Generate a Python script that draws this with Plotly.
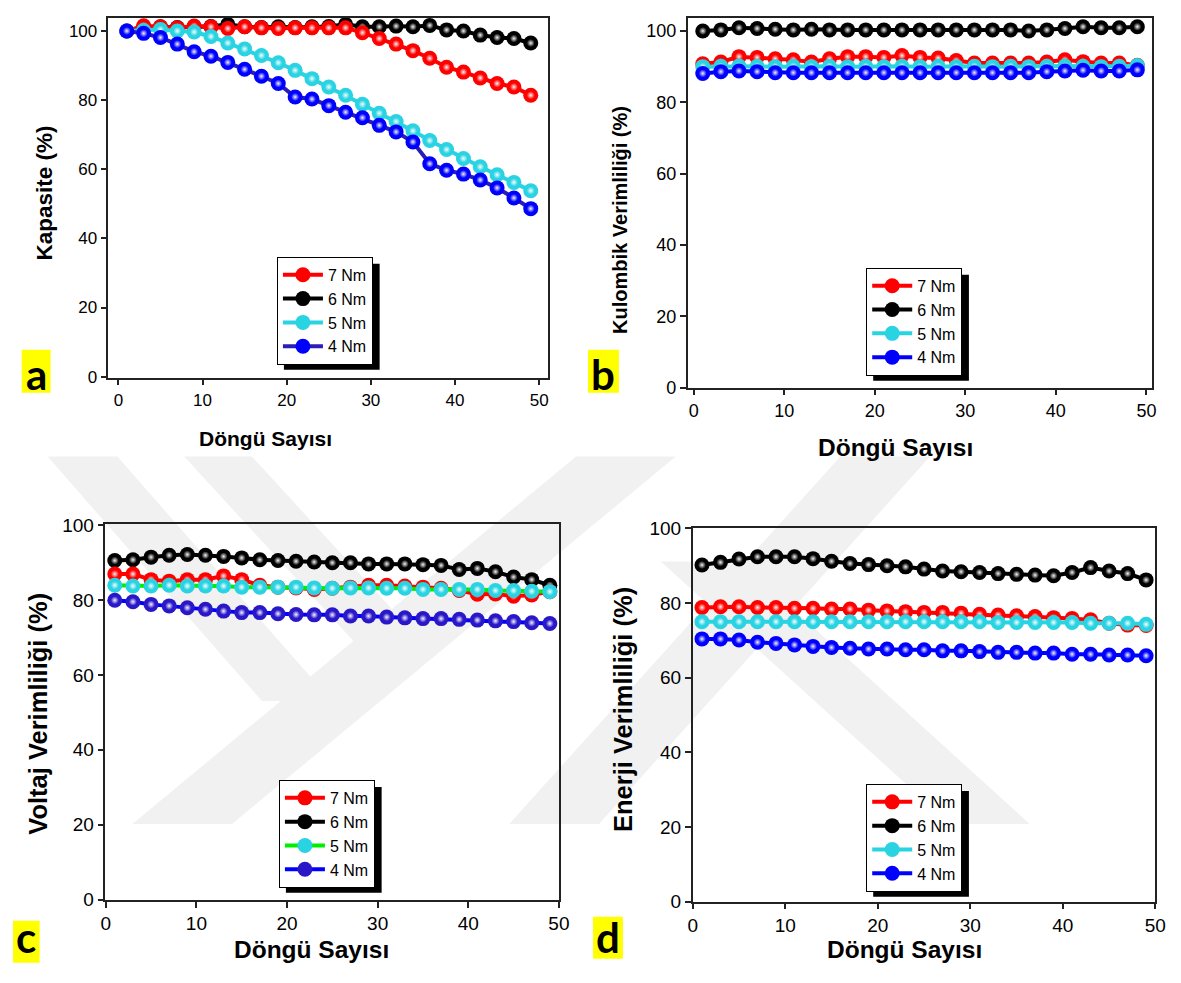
import plotly.graph_objects as go

W, H = 1181, 983
FW, FH = 1165, 967
# observed placement of the figure in the photographed page
X0, SX = 10.3, 0.99
Y0, SY = 15.7, 0.98
TOP_MIN = Y0 + 0.5
BOT_MAX = Y0 + SY * FH - 0.5

cycles = [1, 3, 5, 7, 9, 11, 13, 15, 17, 19, 21, 23, 25, 27, 29, 31, 33, 35, 37, 39, 41, 43, 45, 47, 49]
series_names = ["7 Nm", "6 Nm", "5 Nm", "4 Nm"]

# Panel a: Kapasite (%)
a_7 = [100, 101.5, 101.2, 100.9, 101.4, 101.2, 100.7, 101.2, 100.9, 100.7, 100.9, 100.9, 100.9, 100.9, 99.5, 97.8, 96.2, 94.3, 92.1, 89.5, 88.1, 86.4, 84.8, 83.8, 81.4]
a_6 = [100, 101.0, 101.2, 101.0, 101.2, 101.3, 101.9, 101.2, 101.0, 101.2, 101.0, 101.2, 101.3, 101.9, 101.2, 101.2, 101.4, 101.2, 101.6, 100.3, 100.0, 98.8, 98.1, 97.8, 96.5]
a_5 = [100, 100.2, 100.4, 100.0, 99.7, 98.4, 96.5, 94.8, 92.9, 90.8, 88.6, 86.2, 83.8, 81.4, 78.8, 76.2, 73.8, 71.1, 68.3, 65.7, 63.1, 60.7, 58.4, 56.2, 53.8]
a_4 = [100, 99.3, 98.1, 96.2, 94.0, 92.7, 90.9, 88.9, 86.9, 84.8, 80.9, 80.3, 78.4, 76.5, 74.9, 72.7, 70.8, 67.9, 61.6, 59.7, 58.6, 56.9, 54.6, 51.7, 48.6]

# Panel b: Kulombik Verimliliği (%)
b_7 = [90.8, 91.3, 92.8, 92.6, 92.2, 91.9, 91.3, 92.2, 92.8, 92.8, 92.6, 93.1, 92.6, 92.4, 91.7, 91.0, 91.0, 91.0, 91.0, 91.3, 91.9, 91.4, 91.0, 91.0, 90.4]
b_6 = [100.0, 100.3, 100.9, 100.7, 100.5, 100.3, 100.5, 100.3, 100.3, 100.3, 100.3, 100.3, 100.3, 100.3, 100.3, 100.3, 100.3, 100.3, 100.0, 100.3, 100.7, 101.2, 100.9, 100.9, 101.2]
b_5 = [90.0, 90.1, 90.2, 90.1, 90.0, 90.1, 90.0, 90.1, 90.0, 90.1, 90.0, 90.1, 90.0, 90.1, 90.0, 90.1, 90.0, 90.1, 90.0, 90.1, 90.2, 90.1, 90.0, 90.1, 90.3]
b_4 = [88.1, 88.6, 88.8, 88.6, 88.3, 88.3, 88.3, 88.3, 88.3, 88.3, 88.3, 88.3, 88.3, 88.3, 88.3, 88.3, 88.3, 88.3, 88.3, 88.6, 88.8, 89.0, 88.8, 88.8, 89.1]

# Panel c: Voltaj Verimliliği (%)
c_7 = [86.9, 86.9, 85.4, 85.0, 85.4, 85.4, 86.4, 85.4, 83.9, 83.4, 83.2, 82.8, 83.1, 83.4, 83.9, 83.9, 83.7, 83.4, 83.1, 82.5, 81.5, 81.6, 81.0, 81.3, 82.2]
c_6 = [90.5, 90.7, 91.4, 91.9, 92.1, 91.9, 91.6, 91.2, 90.7, 90.5, 90.3, 90.1, 89.9, 89.9, 89.6, 89.6, 89.6, 89.4, 89.2, 88.1, 88.4, 87.5, 86.1, 85.4, 83.9]
c_5 = [83.9, 83.7, 83.7, 83.9, 83.7, 83.7, 83.7, 83.4, 83.4, 83.4, 83.4, 83.2, 83.1, 83.2, 83.2, 83.1, 83.1, 82.8, 82.8, 82.8, 82.8, 82.5, 82.5, 82.3, 82.2]
c_4 = [79.9, 79.5, 78.8, 78.4, 77.9, 77.5, 77.0, 76.6, 76.6, 76.3, 76.1, 76.0, 76.0, 75.7, 75.7, 75.4, 75.2, 75.0, 75.0, 74.8, 74.6, 74.4, 74.2, 73.9, 73.7]

# Panel d: Enerji Verimliliği (%)
d_7 = [78.8, 79.0, 79.0, 78.8, 78.8, 78.6, 78.6, 78.4, 78.4, 78.1, 77.9, 77.7, 77.5, 77.5, 77.3, 77.0, 76.8, 76.6, 76.4, 76.1, 75.9, 75.5, 74.6, 74.1, 74.0]
d_6 = [90.2, 90.9, 91.8, 92.4, 92.4, 92.4, 91.9, 91.2, 90.6, 90.3, 90.0, 89.7, 89.1, 88.6, 88.4, 88.2, 87.9, 87.7, 87.5, 87.3, 88.2, 89.5, 88.6, 87.9, 86.2]
d_5 = [75.0, 75.0, 75.0, 75.0, 75.0, 75.0, 75.0, 75.0, 75.0, 75.0, 75.0, 75.0, 75.0, 75.0, 75.0, 75.0, 74.8, 74.8, 74.8, 74.8, 74.8, 74.6, 74.6, 74.6, 74.3]
d_4 = [70.4, 70.4, 70.1, 69.5, 69.2, 68.8, 68.4, 68.1, 67.9, 67.7, 67.7, 67.5, 67.5, 67.2, 67.2, 67.0, 66.8, 66.8, 66.6, 66.6, 66.3, 66.3, 66.1, 66.1, 65.9]

y_titles = ["Kapasite (%)", "Kulombik Verimliliği (%)", "Voltaj Verimliliği (%)", "Enerji Verimliliği (%)"]
x_title = "Döngü Sayısı"
panel_letters = ["a", "b", "c", "d"]
x_ticks = [0, 10, 20, 30, 40, 50]
y_ticks = [0, 20, 40, 60, 80, 100]

RED, BLACK, CYAN, BLUE = "#ff0000", "#000000", "#2ad3e2", "#0000ff"
FONT = "Arial, Liberation Sans, sans-serif"


def clampy(y):
    return min(BOT_MAX, max(TOP_MIN, y))


def px(x):
    return min(1, max(0, (x - X0) / SX / FW))


def py(y):
    return min(1, max(0, 1 - (y - Y0) / SY / FH))


# target pixel geometry: frame box, pixel of value 0, pixels per unit, y-range top
panels = [
    dict(data=[a_7, a_6, a_5, a_4], box=(106, 10, 547, 376), x0=116, xu=8.44, y0=375, yu=3.5, ytop=103.6,
         lines=[RED, BLACK, CYAN, "#2b1db5"], marks=[RED, BLACK, CYAN, BLUE],
         legend=(275, 255), tick=17, ytf=22.5, xtf=21,
         ytitle=(42, 191), xtitle=(264, 437), lab=(19, 348, 48, 391)),
    dict(data=[b_7, b_6, b_5, b_4], box=(687, 3, 1153, 386), x0=693, xu=9.08, y0=386, yu=3.7, ytop=103.5,
         lines=[RED, BLACK, CYAN, BLUE], marks=[RED, BLACK, CYAN, BLUE],
         legend=(866, 266), tick=18, ytf=20, xtf=24.5,
         ytitle=(619, 218), xtitle=(895, 446), lab=(587, 348, 618, 391)),
    dict(data=[c_7, c_6, c_5, c_4], box=(103, 523, 558, 899), x0=103.3, xu=9.09, y0=899, yu=3.755, ytop=None,
         lines=[RED, BLACK, "#00ee00", BLUE], marks=[RED, BLACK, CYAN, "#2a18c8"],
         legend=(277, 779), tick=19, ytf=25.5, xtf=24.5,
         ytitle=(35, 713), xtitle=(310, 962), lab=(9, 920, 37, 962)),
    dict(data=[d_7, d_6, d_5, d_4], box=(692, 527, 1156, 901), x0=692, xu=9.28, y0=901, yu=3.74, ytop=None,
         lines=[RED, BLACK, CYAN, BLUE], marks=[RED, BLACK, CYAN, BLUE],
         legend=(866, 783), tick=19, ytf=25.5, xtf=24.5,
         ytitle=(622, 708), xtitle=(904, 961), lab=(592, 916, 622, 958)),
]
LEG_W, LEG_H = 96, 106

fig = go.Figure()
shapes = []
annotations = []

# faint watermark bands (background)
wm = [
    [(45, 455), (115, 455), (330, 700), (260, 700)],
    [(182, 455), (250, 455), (420, 640), (352, 640)],
    [(575, 455), (675, 455), (230, 823), (130, 823)],
    [(840, 455), (930, 455), (598, 823), (508, 823)],
    [(660, 560), (740, 560), (1030, 823), (950, 823)],
]
for poly in wm:
    path = "M " + " L ".join(f"{px(x):.4f},{py(y):.4f}" for x, y in poly) + " Z"
    shapes.append(dict(type="path", xref="paper", yref="paper", path=path,
                       fillcolor="#f1f1f1", line=dict(width=0), layer="below"))

draw_order = [1, 0, 2, 3]
for i, p in enumerate(panels):
    k = "" if i == 0 else str(i + 1)
    xa, ya = "x" + k, "y" + k
    leg = "legend" + k
    for j in draw_order:
        fig.add_trace(go.Scatter(
            x=cycles, y=p["data"][j], name=series_names[j], mode="lines+markers",
            xaxis=xa, yaxis=ya, legend=leg, legendrank=j + 1, cliponaxis=False,
            line=dict(color=p["lines"][j], width=4),
            marker=dict(size=15, color=p["marks"][j], line=dict(width=0)),
        ))
        # specular highlight on the spheres
        fig.add_trace(go.Scatter(
            x=cycles, y=p["data"][j], mode="markers", xaxis=xa, yaxis=ya,
            showlegend=False, hoverinfo="skip", cliponaxis=False,
            marker=dict(size=8, color="rgba(255,255,255,0)", line=dict(width=0),
                        gradient=dict(type="radial", color="rgba(255,255,255,0.95)")),
        ))
    bx0, by0, bx1, by1 = p["box"]
    xr = [(bx0 - p["x0"]) / p["xu"], (bx1 - p["x0"]) / p["xu"]]
    yr = [(p["y0"] - by1) / p["yu"], p["ytop"] if p["ytop"] else (p["y0"] - by0) / p["yu"]]
    by0, by1 = clampy(by0), clampy(by1)
    axis_common = dict(showline=True, mirror=True, linecolor="#222222", linewidth=1.5,
                       ticks="outside", ticklen=6, tickwidth=1.5, tickcolor="#222222",
                       showgrid=False, zeroline=False,
                       tickfont=dict(family=FONT, size=p["tick"], color="black"))
    fig.update_layout({
        "xaxis" + k: dict(domain=[px(bx0), px(bx1)], range=xr, anchor=ya,
                          tickvals=x_ticks, **axis_common),
        "yaxis" + k: dict(domain=[py(by1), py(by0)], range=yr, anchor=xa,
                          tickvals=y_ticks, **axis_common),
        leg: dict(x=px(p["legend"][0]), y=py(p["legend"][1]), xanchor="left", yanchor="top",
                  bgcolor="white", bordercolor="black", borderwidth=1,
                  font=dict(family=FONT, size=16, color="black"),
                  itemwidth=40, tracegroupgap=0, traceorder="normal"),
    })
    lx0, ly0 = p["legend"]
    shapes.append(dict(type="rect", xref="paper", yref="paper",
                       x0=px(lx0 + 7), x1=px(lx0 + LEG_W + 7), y0=py(ly0 + LEG_H + 7), y1=py(ly0 + 7),
                       fillcolor="black", line=dict(width=0), layer="above"))
    # axis titles
    annotations.append(dict(x=px(p["ytitle"][0]), y=py(p["ytitle"][1]), xref="paper", yref="paper",
                            xanchor="center", yanchor="middle",
                            text="<b>" + y_titles[i] + "</b>", textangle=-90, showarrow=False,
                            font=dict(family=FONT, size=p["ytf"], color="black")))
    tx, ty = p["xtitle"]
    if ty + 16 > BOT_MAX:
        annotations.append(dict(x=px(tx), y=0, xref="paper", yref="paper",
                                xanchor="center", yanchor="bottom", borderpad=0,
                                text="<b>" + x_title + "</b>", showarrow=False,
                                font=dict(family=FONT, size=p["xtf"], color="black")))
    else:
        annotations.append(dict(x=px(tx), y=py(ty), xref="paper", yref="paper",
                                xanchor="center", yanchor="middle",
                                text="<b>" + x_title + "</b>", showarrow=False,
                                font=dict(family=FONT, size=p["xtf"], color="black")))
    # panel letter on yellow box
    lb0, lt0, lb1, lt1 = p["lab"]
    shapes.append(dict(type="rect", xref="paper", yref="paper",
                       x0=px(lb0), x1=px(lb1), y0=py(lt1), y1=py(lt0),
                       fillcolor="#ffff00", line=dict(width=0), layer="below"))
    annotations.append(dict(x=px((lb0 + lb1) / 2), y=py(lt1 + 8), xref="paper", yref="paper",
                            xanchor="center", yanchor="bottom",
                            text="<b>" + panel_letters[i] + "</b>", showarrow=False,
                            font=dict(family="Lato, Open Sans, sans-serif", size=42, color="black")))

fig.update_layout(width=FW, height=FH, margin=dict(l=0, r=0, t=0, b=0),
                  paper_bgcolor="white", plot_bgcolor="rgba(0,0,0,0)",
                  shapes=shapes, annotations=annotations, showlegend=True)

fig.write_html("out.html")
